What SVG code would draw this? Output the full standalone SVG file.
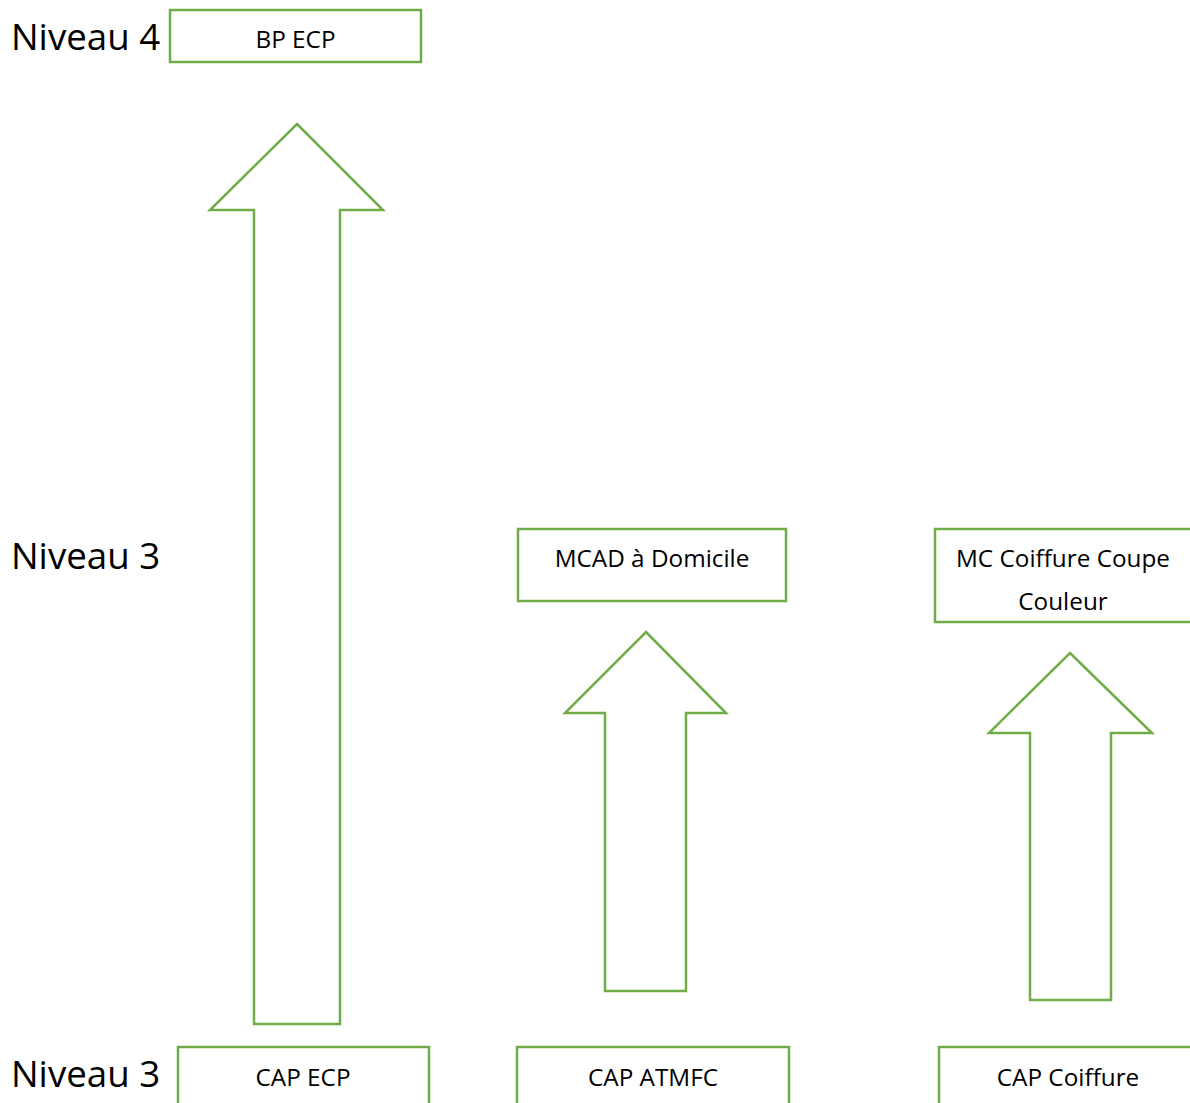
<svg xmlns="http://www.w3.org/2000/svg" width="1190" height="1103" viewBox="0 0 1190 1103">
<style>
.box{fill:#fff;stroke:#70AD47;stroke-width:2.5}
.arr{fill:#fff;stroke:#70AD47;stroke-width:2.5;stroke-linejoin:miter}
.lvl{font-family:"Open Sans","Noto Sans",sans-serif;font-size:36.7px;fill:#000}
.t{font-family:"Open Sans","Noto Sans",sans-serif;font-size:24.3px;fill:#000;text-anchor:middle}
</style>
<rect width="1190" height="1103" fill="#fff"/>
<g id="labels">
<text class="lvl" x="11" y="50">Niveau 4</text>
<text class="lvl" x="11" y="569">Niveau 3</text>
<text class="lvl" x="11" y="1087">Niveau 3</text>
</g>
<g id="connectors">
<polygon class="arr" points="297,124 383,210 340,210 340,1024 254,1024 254,210 210,210"/>
<polygon class="arr" points="646,632 726,713 686,713 686,991 605,991 605,713 565,713"/>
<polygon class="arr" points="1070,653 1152,733 1111,733 1111,1000 1030,1000 1030,733 989,733"/>
</g>
<g id="bp-ecp">
<rect class="box" x="170" y="10" width="251" height="52"/>
<text class="t" x="295.5" y="48">BP ECP</text>
</g>
<g id="mcad">
<rect class="box" x="518" y="529" width="268" height="72"/>
<text class="t" x="652" y="567">MCAD à Domicile</text>
</g>
<g id="mc-coiffure">
<rect class="box" x="935" y="529" width="258" height="93"/>
<text class="t" x="1063" y="567">MC Coiffure Coupe</text>
<text class="t" x="1063" y="610">Couleur</text>
</g>
<g id="cap-ecp">
<rect class="box" x="178" y="1047" width="251" height="70"/>
<text class="t" x="303" y="1086">CAP ECP</text>
</g>
<g id="cap-atmfc">
<rect class="box" x="517" y="1047" width="272" height="70"/>
<text class="t" x="653" y="1086">CAP ATMFC</text>
</g>
<g id="cap-coiffure">
<rect class="box" x="939" y="1047" width="258" height="70"/>
<text class="t" x="1068" y="1086">CAP Coiffure</text>
</g>
</svg>
